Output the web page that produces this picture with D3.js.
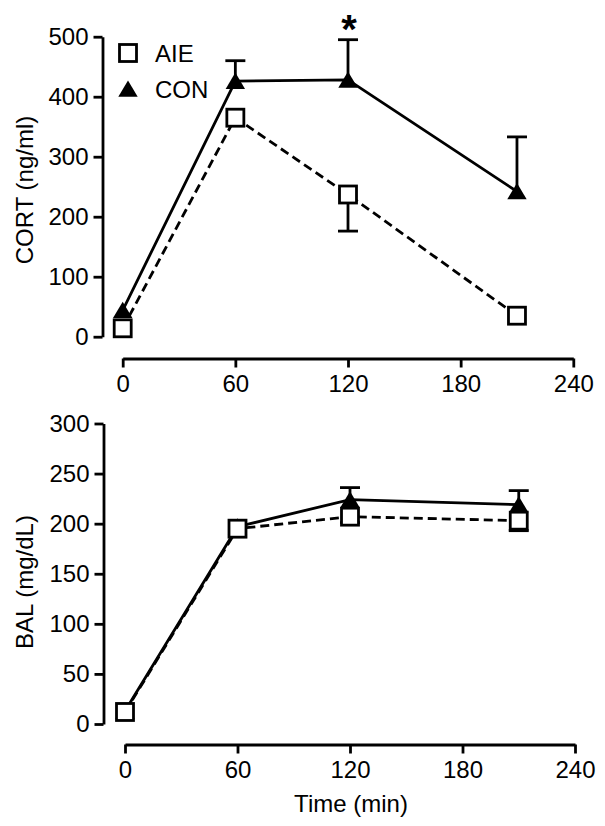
<!DOCTYPE html>
<html>
<head>
<meta charset="utf-8">
<script src="https://cdn.jsdelivr.net/npm/d3@7"></script>
<style>
  html, body { margin: 0; padding: 0; background: #fff; }
  svg { display: block; }
  text { font-family: "Liberation Sans", Arial, sans-serif; fill: #000; }
</style>
</head>
<body>
<svg id="chart" width="605" height="826"></svg>
<script>
// ---- data ----
const times = [0, 60, 120, 210];
const xTicks = [0, 60, 120, 180, 240];

const cortAIE = [14, 365, 237, 35];
const cortAIEerr = [0, 0, 61, 0];
const cortCON = [44, 426, 428, 242];
const cortCONerr = [0, 34, 67, 91];
const cortTicks = [0, 100, 200, 300, 400, 500];

const balAIE = [12, 195, 207, 203];
const balAIEerr = [0, 0, 6, 10];
const balCON = [13, 197, 224, 219];
const balCONerr = [0, 0, 12, 14];
const balTicks = [0, 50, 100, 150, 200, 250, 300];

const legendLabels = ["AIE", "CON"];
const cortLabel = "CORT (ng/ml)";
const balLabel = "BAL (mg/dL)";
const timeLabel = "Time (min)";
const sigMark = "*";
const sigTime = 120;

// ---- drawing ----
const svg = d3.select("#chart");
const FS = 24;

const trianglePath = "M0,-8.5L9.7,7.8L-9.7,7.8Z";

function panel(cfg) {
  const x = d3.scaleLinear().domain([0, 240]).range(cfg.xr);
  const y = d3.scaleLinear().domain(cfg.yd).range(cfg.yr);
  const g = svg.append("g");

  // axes
  const yAxis = d3.axisLeft(y).tickValues(cfg.yTicks).tickSize(9).tickSizeOuter(0).tickPadding(5);
  const ya = g.append("g").attr("transform", `translate(${cfg.yAxisX},0)`).call(yAxis);
  const xAxis = d3.axisBottom(x).tickValues(xTicks).tickSize(9).tickSizeOuter(0).tickPadding(7);
  const xa = g.append("g").attr("transform", `translate(0,${cfg.xAxisY})`).call(xAxis);
  [ya, xa].forEach(a => {
    a.selectAll("path.domain").attr("stroke", "#000").attr("stroke-width", 2.8);
    a.selectAll(".tick line").attr("stroke", "#000").attr("stroke-width", 2.8);
    a.selectAll(".tick text").style("font-family", '"Liberation Sans", Arial, sans-serif')
      .style("font-size", FS + "px").attr("fill", "#000");
  });

  // y title
  g.append("text")
    .attr("transform", `translate(33,${cfg.titleY}) rotate(-90)`)
    .attr("text-anchor", "middle")
    .style("font-size", FS + "px")
    .text(cfg.title);

  const line = d3.line().x((d, i) => x(times[i])).y(d => y(d));

  // CON solid line
  g.append("path").datum(cfg.con).attr("d", line)
    .attr("fill", "none").attr("stroke", "#000").attr("stroke-width", 2.8);
  // AIE dashed line
  g.append("path").datum(cfg.aie).attr("d", line)
    .attr("fill", "none").attr("stroke", "#000").attr("stroke-width", 2.8)
    .attr("stroke-dasharray", "9,5");

  // error bars: CON upward, AIE downward
  function errBars(vals, errs, dir) {
    vals.forEach((v, i) => {
      if (!errs[i]) return;
      const cx = x(times[i]);
      const y0 = y(v), y1 = y(v + dir * errs[i]);
      g.append("line").attr("x1", cx).attr("x2", cx).attr("y1", y0).attr("y2", y1)
        .attr("stroke", "#000").attr("stroke-width", 2.8);
      g.append("line").attr("x1", cx - 10).attr("x2", cx + 10).attr("y1", y1).attr("y2", y1)
        .attr("stroke", "#000").attr("stroke-width", 2.8);
    });
  }
  errBars(cfg.con, cfg.conErr, 1);
  errBars(cfg.aie, cfg.aieErr, -1);

  // CON triangles
  g.selectAll(null).data(cfg.con).enter().append("path")
    .attr("d", trianglePath)
    .attr("transform", (d, i) => `translate(${x(times[i])},${y(d)})`)
    .attr("fill", "#000");
  // AIE squares
  g.selectAll(null).data(cfg.aie).enter().append("rect")
    .attr("x", (d, i) => x(times[i]) - 8.5)
    .attr("y", d => y(d) - 8.5)
    .attr("width", 17).attr("height", 17)
    .attr("fill", "#fff").attr("stroke", "#000").attr("stroke-width", 2.8);

  return { x, y, g };
}

const topPanel = panel({
  xr: [122.7, 573.3], yd: [0, 500], yr: [336.7, 36.7],
  yAxisX: 102.5, xAxisY: 358.5, yTicks: cortTicks,
  title: cortLabel, titleY: 190,
  aie: cortAIE, aieErr: cortAIEerr, con: cortCON, conErr: cortCONerr
});

const bottomPanel = panel({
  xr: [125, 575], yd: [0, 300], yr: [724, 423.5],
  yAxisX: 103.5, xAxisY: 744.5, yTicks: balTicks,
  title: balLabel, titleY: 582,
  aie: balAIE, aieErr: balAIEerr, con: balCON, conErr: balCONerr
});

// significance star
svg.append("text")
  .attr("x", topPanel.x(sigTime) + 1).attr("y", 43)
  .attr("text-anchor", "middle")
  .style("font-size", "40px").style("font-weight", "bold")
  .text(sigMark);

// legend
const leg = svg.append("g");
leg.append("rect").attr("x", 128 - 8.5).attr("y", 53 - 8.5).attr("width", 17).attr("height", 17)
  .attr("fill", "#fff").attr("stroke", "#000").attr("stroke-width", 2.8);
leg.append("text").attr("x", 155).attr("y", 61.5).style("font-size", FS + "px").text(legendLabels[0]);
leg.append("path").attr("d", trianglePath).attr("transform", "translate(128,89)").attr("fill", "#000");
leg.append("text").attr("x", 155).attr("y", 97.5).style("font-size", FS + "px").text(legendLabels[1]);

// x title
svg.append("text").attr("x", 351).attr("y", 812).attr("text-anchor", "middle")
  .style("font-size", FS + "px").text(timeLabel);
</script>
</body>
</html>
